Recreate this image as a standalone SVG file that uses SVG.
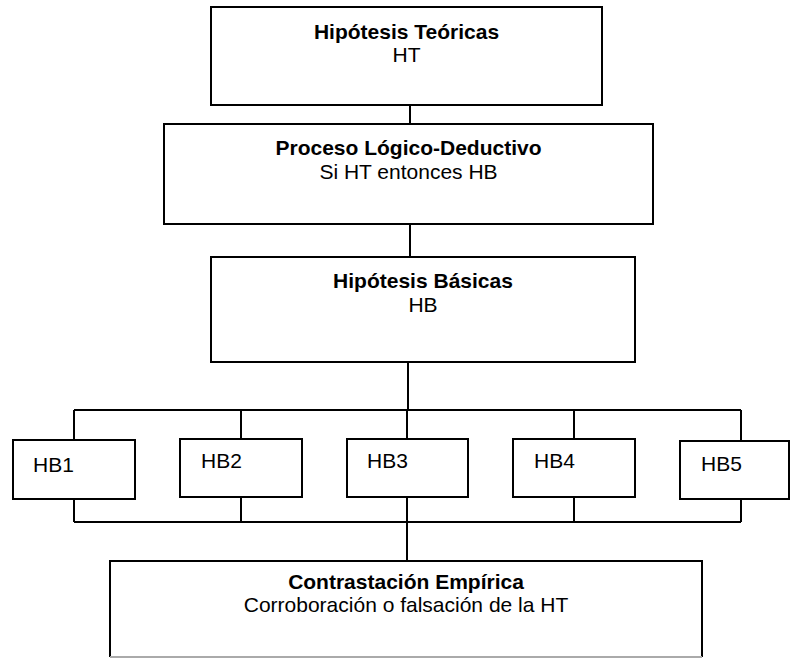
<svg xmlns="http://www.w3.org/2000/svg" width="791" height="658" viewBox="0 0 791 658">
<style>
.box{fill:#fff;stroke:#000;stroke-width:2}
.c{fill:none;stroke:#000;stroke-width:2}
text{font-family:"Liberation Sans",Arial,sans-serif;font-size:21px;fill:#000}
.b{font-weight:bold}
.m{text-anchor:middle}
</style>
<rect width="791" height="658" fill="#fff"/>
<g id="connectors">
<path class="c" d="M410 105V124M410 224V257M408 362V410M74 410H741M74 410V440M241 410V439M407 410V439M574 410V439M741 410V441"/>
<path class="c" d="M74 499V522M241 497V522M407 497V522M574 497V522M741 499V522M74 522H741M407 522V561"/>
</g>
<g id="ht">
<rect class="box" x="211" y="7" width="391" height="98"/>
<text class="b m" x="406.5" y="39">Hipótesis Teóricas</text>
<text class="m" x="406.5" y="62">HT</text>
</g>
<g id="proceso">
<rect class="box" x="164" y="124" width="489" height="100"/>
<text class="b m" x="408.5" y="155">Proceso Lógico-Deductivo</text>
<text class="m" x="408.5" y="179">Si HT entonces HB</text>
</g>
<g id="hb">
<rect class="box" x="211" y="257" width="424" height="105"/>
<text class="b m" x="423" y="288">Hipótesis Básicas</text>
<text class="m" x="423" y="312">HB</text>
</g>
<g id="hb1">
<rect class="box" x="13" y="440" width="122" height="59"/>
<text x="33" y="472">HB1</text>
</g>
<g id="hb2">
<rect class="box" x="180" y="439" width="122" height="58"/>
<text x="201" y="468">HB2</text>
</g>
<g id="hb3">
<rect class="box" x="347" y="439" width="121" height="58"/>
<text x="367" y="468">HB3</text>
</g>
<g id="hb4">
<rect class="box" x="513" y="439" width="122" height="58"/>
<text x="534" y="468">HB4</text>
</g>
<g id="hb5">
<rect class="box" x="680" y="441" width="109" height="58"/>
<text x="701" y="471">HB5</text>
</g>
<g id="contrastacion">
<rect x="110" y="561" width="592" height="96" fill="#fff"/>
<path class="c" d="M110 657V561H702V657"/>
<line x1="110" y1="657" x2="702" y2="657" stroke="#aaa" stroke-width="2"/>
<text class="b m" x="406" y="589">Contrastación Empírica</text>
<text class="m" x="406" y="612">Corroboración o falsación de la HT</text>
</g>
</svg>
